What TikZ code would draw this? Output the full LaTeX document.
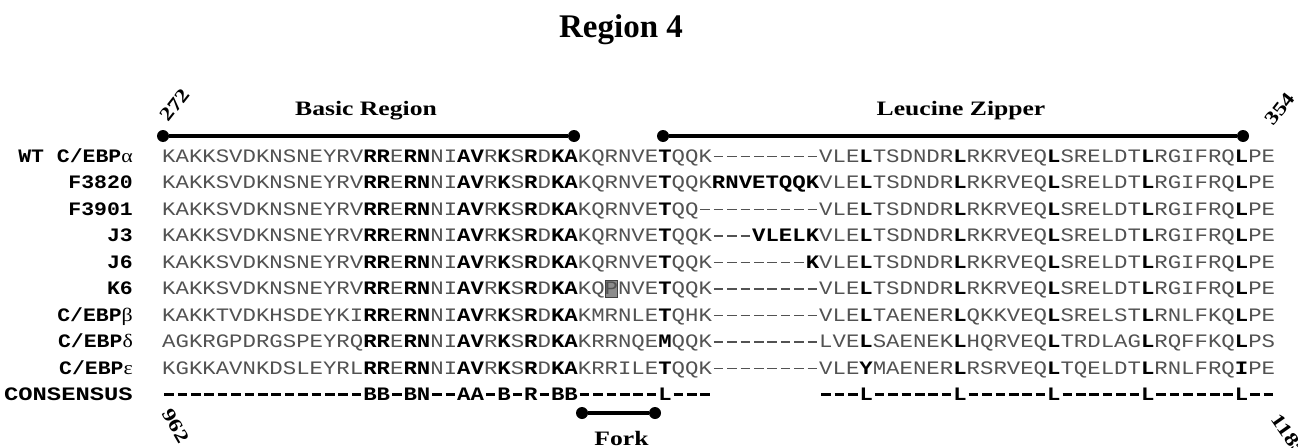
\documentclass[tikz,border=0pt]{standalone}
\usepackage{fontspec}
\newfontfamily\seqfont{Liberation Mono}[FakeStretch=1.176,Ligatures=TeXOff]
\newfontfamily\labfont{Liberation Mono}[FakeStretch=1.13,Ligatures=TeXOff]
\newfontfamily\grk{Liberation Serif}[FakeStretch=1.15]
\newfontfamily\ttl{Liberation Serif}[FakeStretch=1.25]
\newfontfamily\bigfont{Liberation Serif}
\definecolor{seqgray}{gray}{0.32}
\newcommand\Bf[1]{{\bfseries\color{black}#1}}
\newlength\dth
\setlength\dth{1.5pt}
\newcommand\D{\makebox[13.4064pt]{\rule[5pt]{9.6pt}{\dth}}}
\ExplSyntaxOn
\cs_new:Npn \dashes #1 { \prg_replicate:nn {#1} {\D} }
\ExplSyntaxOff
\tikzset{
  seq/.style={anchor=base west, inner sep=0, font=\seqfont\fontsize{19}{19}\selectfont\setlength\dth{1.5pt}, text=seqgray},
  cons/.style={anchor=base west, inner sep=0, font=\seqfont\bfseries\fontsize{19}{19}\selectfont\setlength\dth{2.5pt}, text=black},
  lab/.style={anchor=base east, inner sep=0, font=\labfont\bfseries\fontsize{19}{19}\selectfont},
  ttlf/.style={anchor=base, inner sep=0, font=\ttl\bfseries\fontsize{20.5}{20.5}\selectfont},
  bigttl/.style={anchor=base, inner sep=0, font=\bigfont\bfseries\fontsize{33}{33}\selectfont},
  num/.style={inner sep=0, font=\ttl\bfseries\fontsize{19}{19}\selectfont},
  dot/.style={circle, fill=black, inner sep=0, minimum size=12},
  bar/.style={line width=4.5, black},
  pmark/.style={draw=black!75, fill=black!45, line width=1, inner sep=0, minimum width=12, minimum height=17}
}
\begin{document}
\begin{tikzpicture}[x=1pt,y=-1pt]
\useasboundingbox[fill=white] (0,0) rectangle (1298,447);
% title
\node[bigttl] (title) at (621,37) {Region 4};
% domain bars
\node[ttlf] (basic) at (366,115) {Basic Region};
\node[ttlf] (leu) at (961,115) {Leucine Zipper};
\node[dot] (b1) at (163,136) {};
\node[dot] (b2) at (574,136) {};
\node[dot] (l1) at (663,136) {};
\node[dot] (l2) at (1243,136) {};
\draw[bar] (b1) -- (b2);
\draw[bar] (l1) -- (l2);
\node[num, rotate=52] (n272) at (175,105) {272};
\node[num, rotate=52] (n354) at (1280,109) {354};
% K6 mutated residue box
\node[pmark] (pbox) at (611.2,289) {};
% labels
\node[lab] (lWT) at (133,162) {WT C/EBP{\grk\mdseries α}};
\node[lab] (lF3820) at (133,188.55) {F3820};
\node[lab] (lF3901) at (133,215.1) {F3901};
\node[lab] (lJ3) at (133,241.65) {J3};
\node[lab] (lJ6) at (133,268.2) {J6};
\node[lab] (lK6) at (133,294.75) {K6};
\node[lab] (lB) at (133,321.3) {C/EBP{\grk\mdseries β}};
\node[lab] (lD) at (133,347.85) {C/EBP{\grk\mdseries δ}};
\node[lab] (lE) at (133,374.4) {C/EBP{\grk\mdseries ε}};
\node[lab] (lC) at (133,400.95) {\scalebox{1.11}[1]{CONSENSUS}};
% sequences
\node[seq] (sWT) at (162,162) {KAKKSVDKNSNEYRV\Bf{RR}E\Bf{RN}NI\Bf{AV}R\Bf{K}S\Bf{R}D\Bf{KA}KQRNVE\Bf{T}QQK\dashes{8}VLE\Bf{L}TSDNDR\Bf{L}RKRVEQ\Bf{L}SRELDT\Bf{L}RGIFRQ\Bf{L}PE};
\node[seq] (sF3820) at (162,188.55) {KAKKSVDKNSNEYRV\Bf{RR}E\Bf{RN}NI\Bf{AV}R\Bf{K}S\Bf{R}D\Bf{KA}KQRNVE\Bf{T}QQK\Bf{RNVETQQK}VLE\Bf{L}TSDNDR\Bf{L}RKRVEQ\Bf{L}SRELDT\Bf{L}RGIFRQ\Bf{L}PE};
\node[seq] (sF3901) at (162,215.1) {KAKKSVDKNSNEYRV\Bf{RR}E\Bf{RN}NI\Bf{AV}R\Bf{K}S\Bf{R}D\Bf{KA}KQRNVE\Bf{T}QQ\dashes{9}VLE\Bf{L}TSDNDR\Bf{L}RKRVEQ\Bf{L}SRELDT\Bf{L}RGIFRQ\Bf{L}PE};
\node[seq] (sJ3) at (162,241.65) {KAKKSVDKNSNEYRV\Bf{RR}E\Bf{RN}NI\Bf{AV}R\Bf{K}S\Bf{R}D\Bf{KA}KQRNVE\Bf{T}QQK\dashes{3}\Bf{VLELK}VLE\Bf{L}TSDNDR\Bf{L}RKRVEQ\Bf{L}SRELDT\Bf{L}RGIFRQ\Bf{L}PE};
\node[seq] (sJ6) at (162,268.2) {KAKKSVDKNSNEYRV\Bf{RR}E\Bf{RN}NI\Bf{AV}R\Bf{K}S\Bf{R}D\Bf{KA}KQRNVE\Bf{T}QQK\dashes{7}\Bf{K}VLE\Bf{L}TSDNDR\Bf{L}RKRVEQ\Bf{L}SRELDT\Bf{L}RGIFRQ\Bf{L}PE};
\node[seq] (sK6) at (162,294.75) {KAKKSVDKNSNEYRV\Bf{RR}E\Bf{RN}NI\Bf{AV}R\Bf{K}S\Bf{R}D\Bf{KA}KQPNVE\Bf{T}QQK\dashes{8}VLE\Bf{L}TSDNDR\Bf{L}RKRVEQ\Bf{L}SRELDT\Bf{L}RGIFRQ\Bf{L}PE};
\node[seq] (sB) at (162,321.3) {KAKKTVDKHSDEYKI\Bf{RR}E\Bf{RN}NI\Bf{AV}R\Bf{K}S\Bf{R}D\Bf{KA}KMRNLE\Bf{T}QHK\dashes{8}VLE\Bf{L}TAENER\Bf{L}QKKVEQ\Bf{L}SRELST\Bf{L}RNLFKQ\Bf{L}PE};
\node[seq] (sD) at (162,347.85) {AGKRGPDRGSPEYRQ\Bf{RR}E\Bf{RN}NI\Bf{AV}R\Bf{K}S\Bf{R}D\Bf{KA}KRRNQE\Bf{M}QQK\dashes{8}LVE\Bf{L}SAENEK\Bf{L}HQRVEQ\Bf{L}TRDLAG\Bf{L}RQFFKQ\Bf{L}PS};
\node[seq] (sE) at (162,374.4) {KGKKAVNKDSLEYRL\Bf{RR}E\Bf{RN}NI\Bf{AV}R\Bf{K}S\Bf{R}D\Bf{KA}KRRILE\Bf{T}QQK\dashes{8}VLE\Bf{Y}MAENER\Bf{L}RSRVEQ\Bf{L}TQELDT\Bf{L}RNLFRQ\Bf{I}PE};
\node[cons] (sC1) at (162,400.95) {\dashes{15}BB\D BN\dashes{2}AA\D B\D R\D BB\dashes{6}L\dashes{3}};
\node[cons] (sC2) at (819.1,400.95) {\dashes{3}L\dashes{6}L\dashes{6}L\dashes{6}L\dashes{6}L\dashes{2}};
% fork
\node[dot] (f1) at (582,413) {};
\node[dot] (f2) at (655,413) {};
\draw[bar] (f1) -- (f2);
\node[ttlf] (fork) at (621.5,445.5) {Fork};
\node[num, rotate=-60] (n962) at (176,426) {962};
\node[num, rotate=-55] (n1185) at (1289,435) {1185};
\end{tikzpicture}
\end{document}
